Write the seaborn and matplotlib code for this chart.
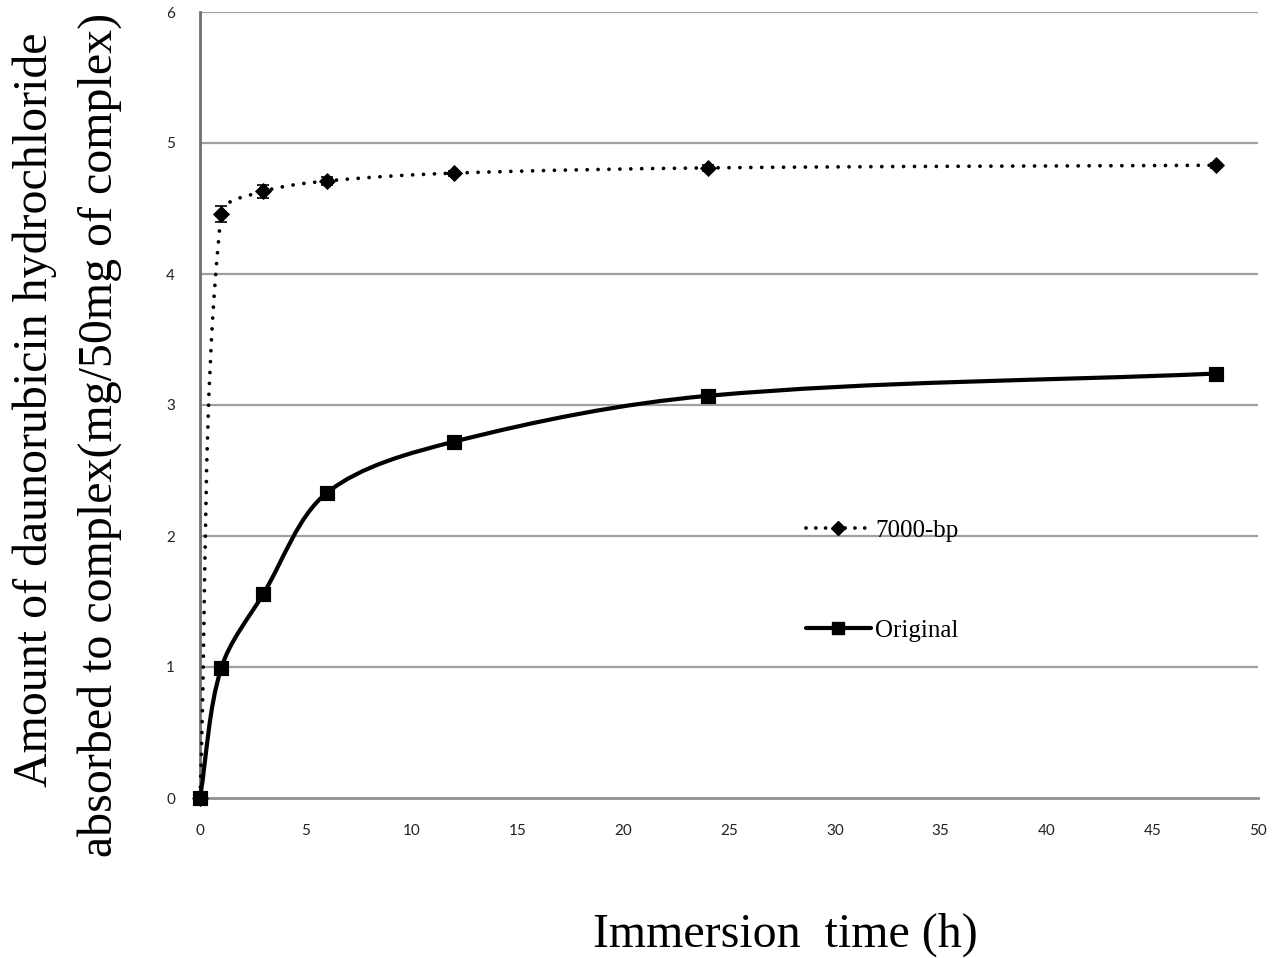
import numpy as np
import matplotlib
matplotlib.use("Agg")
import matplotlib.pyplot as plt
import seaborn as sns
import pandas as pd
from matplotlib.path import Path
from matplotlib.patches import PathPatch
from matplotlib.lines import Line2D

# ---- data ----
time_h = [0, 1, 3, 6, 12, 24, 48]
bp7000 = [0.0, 4.46, 4.63, 4.71, 4.77, 4.81, 4.83]
bp7000_err = [0.0, 0.06, 0.05, 0.03, 0.02, 0.02, 0.02]
original = [0.0, 0.99, 1.56, 2.33, 2.72, 3.07, 3.24]
series_names = ["7000-bp", "Original"]
x_ticks = [0, 5, 10, 15, 20, 25, 30, 35, 40, 45, 50]
y_ticks = [0, 1, 2, 3, 4, 5, 6]

sns.set_theme(style="white")
plt.rcParams["font.family"] = ["Liberation Serif", "DejaVu Serif"]
plt.rcParams["text.color"] = "black"

W, H = 1274, 958
fig = plt.figure(figsize=(W / 100, H / 100), dpi=100)
ax = fig.add_axes([200 / W, 1 - 798 / H, 1058 / W, (798 - 12) / H])
ax.set_xlim(0, 50)
ax.set_ylim(0, 6)

df = pd.DataFrame({"time": time_h * 2,
                   "value": bp7000 + original,
                   "series": [series_names[0]] * len(time_h) + [series_names[1]] * len(time_h)})

# grid
for yv in y_ticks[1:]:
    ax.axhline(yv, color="#a0a0a0", lw=1.6, zorder=0)


def smooth_patch(xs, ys, **kw):
    """Excel-like smoothed line: Bezier through the data points (screen-space tangents)."""
    pts = ax.transData.transform(np.column_stack([xs, ys]))
    n = len(pts)
    verts = [pts[0]]
    codes = [Path.MOVETO]
    for i in range(n - 1):
        p0 = pts[i - 1] if i > 0 else pts[i]
        p1 = pts[i]
        p2 = pts[i + 1]
        p3 = pts[i + 2] if i + 2 < n else pts[i + 1]
        d01 = np.hypot(*(p1 - p0))
        d12 = np.hypot(*(p2 - p1))
        d23 = np.hypot(*(p3 - p2))
        f1 = d12 / (d01 + d12) / 3 if (d01 + d12) > 0 else 0
        f2 = d12 / (d12 + d23) / 3 if (d12 + d23) > 0 else 0
        c1 = p1 + (p2 - p0) * f1
        c2 = p2 - (p3 - p1) * f2
        verts += [c1, c2, p2]
        codes += [Path.CURVE4] * 3
    verts = ax.transData.inverted().transform(np.array(verts))
    patch = PathPatch(Path(verts, codes), fill=False, clip_on=False, **kw)
    ax.add_patch(patch)
    return patch


p1 = smooth_patch(time_h, bp7000, edgecolor="black", lw=2.7,
                  linestyle=(0, (0.01, 2.9)), zorder=3)
p1.set_capstyle("round")
smooth_patch(time_h, original, edgecolor="black", lw=3.0, zorder=3)

# error bars and markers
ax.errorbar(time_h, bp7000, yerr=bp7000_err, fmt="none", ecolor="black",
            elinewidth=1.2, capsize=4, capthick=1.2, zorder=4)
sns.scatterplot(data=df[df.series == series_names[0]], x="time", y="value",
                marker="D", s=65, color="black", edgecolor="black", ax=ax,
                legend=False, zorder=5, clip_on=False)
sns.scatterplot(data=df[df.series == series_names[1]], x="time", y="value",
                marker="s", s=110, color="black", edgecolor="black", ax=ax,
                legend=False, zorder=6, clip_on=False)

# axes styling
for s in ["top", "right"]:
    ax.spines[s].set_visible(False)
ax.spines["left"].set_color("#707070")
ax.spines["left"].set_linewidth(2.0)
ax.spines["bottom"].set_color("#909090")
ax.spines["bottom"].set_linewidth(2.0)
ax.set_xticks(x_ticks)
ax.set_yticks(y_ticks)
ax.tick_params(axis="both", direction="in", length=6, width=1.2, colors="#808080",
               labelcolor="#222222", labelsize=11)
ax.tick_params(axis="x", pad=19)
ax.tick_params(axis="y", pad=18)
for lab in ax.get_xticklabels() + ax.get_yticklabels():
    lab.set_family(["Lato", "DejaVu Sans"])
ax.set_xlabel("")
ax.set_ylabel("")

# legend
handles = [
    Line2D([], [], color="black", lw=2.7, linestyle=(0, (0.01, 2.6)),
           dash_capstyle="round", marker="D", markersize=7),
    Line2D([], [], color="black", lw=3.0, marker="s", markersize=9),
]
leg = ax.legend(handles, series_names, loc="upper left",
                bbox_to_anchor=((793 - 200) / 1058, (798 - 507) / 786),
                frameon=False, fontsize=18, handlelength=2.6, handletextpad=0.2,
                labelspacing=3.1, borderpad=0)

# axis titles
fig.text(785 / W, 1 - 935 / H, "Immersion  time (h)", ha="center", va="center",
         fontsize=34.5)
fig.text(35 / W, 1 - 410 / H, "Amount of daunorubicin hydrochloride", rotation=90,
         ha="center", va="center", fontsize=34.5)
fig.text(100 / W, 1 - 435 / H, "absorbed to complex(mg/50mg of complex)", rotation=90,
         ha="center", va="center", fontsize=34.5)

fig.savefig("out.png", dpi=100)
